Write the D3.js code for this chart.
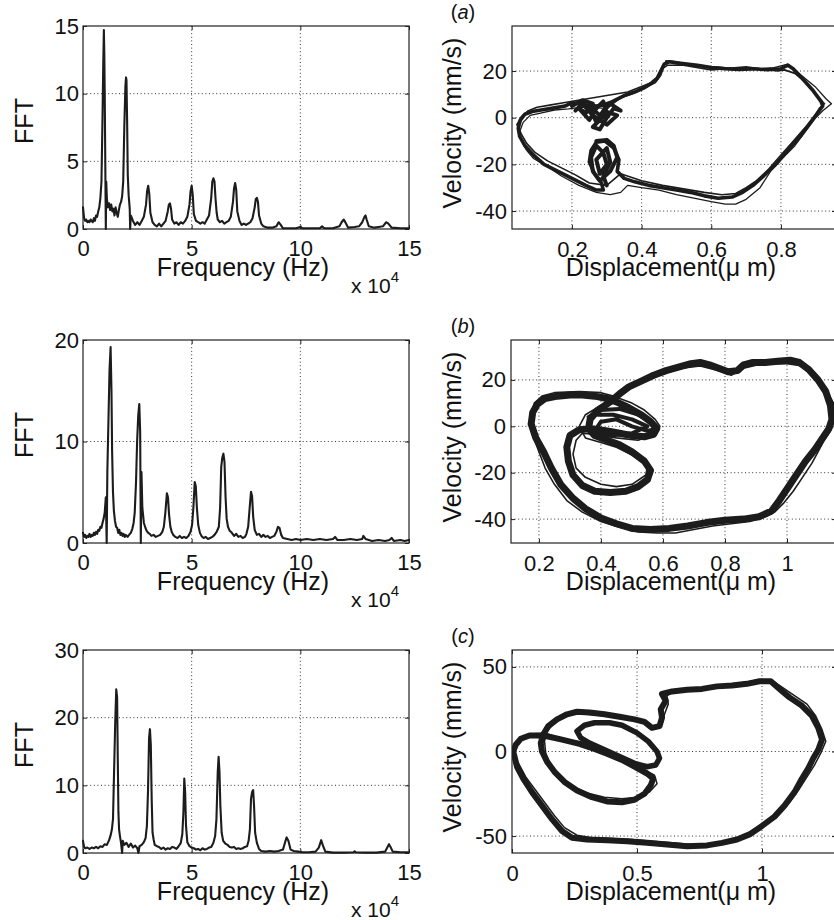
<!DOCTYPE html>
<html>
<head>
<meta charset="utf-8">
<title>FFT and phase portraits</title>
<script src="https://cdn.jsdelivr.net/npm/d3@7"></script>
<style>
body{margin:0;background:#fff;}
text{font-family:"Liberation Sans",Arial,Helvetica,sans-serif;fill:#111;}
.tick text{font-size:22px;}
.lab{font-size:25px;}
.grid{stroke:#333;stroke-width:1;stroke-dasharray:1,2.6;}
.box{fill:none;stroke:#222;stroke-width:1.2;}
.curve{fill:none;stroke:#1c1c1c;stroke-linejoin:round;stroke-linecap:round;}
</style>
</head>
<body>
<script>
// ---- data ----
var fftXTicks = [0, 5, 10, 15];
var fftYTicks = [[0, 5, 10, 15], [0, 10, 20], [0, 10, 20, 30]];
var fftYMax = [15, 20, 30];

// spectrum (a): [frequency x1e4 Hz, amplitude]
var fftA = [[0,1.6],[0.05,0.8],[0.1,0.6],[0.15,0.7],[0.2,0.5],[0.25,0.6],[0.3,0.5],[0.35,0.7],[0.4,0.6],[0.45,0.5],[0.5,0.8],[0.55,0.6],[0.6,1.0],[0.65,0.9],[0.7,1.3],[0.75,1.6],[0.8,2.3],[0.85,3.5],[0.9,8.5],[0.93,12],[0.96,14.7],[0.98,13],[1.0,10],[1.02,6],[1.05,0],[1.07,3.5],[1.1,2.2],[1.15,1.6],[1.2,1.9],[1.25,1.4],[1.3,1.8],[1.35,1.3],[1.4,1.5],[1.45,1.0],[1.5,1.6],[1.55,1.2],[1.6,0.9],[1.65,1.4],[1.7,1.8],[1.75,2.0],[1.8,2.4],[1.85,3.5],[1.9,7.5],[1.95,10.5],[1.98,11.2],[2.0,11.0],[2.03,8],[2.06,4],[2.1,2.5],[2.15,1.5],[2.17,0],[2.2,1.0],[2.3,0.6],[2.4,0.3],[2.5,0.5],[2.6,0.3],[2.7,0.6],[2.8,0.9],[2.9,1.8],[2.95,2.8],[3.0,3.2],[3.05,2.6],[3.1,1.2],[3.2,0.5],[3.3,0.3],[3.4,0.2],[3.5,0.4],[3.6,0.2],[3.7,0.4],[3.8,0.6],[3.9,1.3],[3.95,1.8],[4.0,1.9],[4.05,1.5],[4.1,0.7],[4.2,0.4],[4.3,0.5],[4.4,0.3],[4.5,0.5],[4.6,0.4],[4.7,0.6],[4.8,0.9],[4.9,1.8],[4.95,2.8],[5.0,3.2],[5.05,2.5],[5.1,1.1],[5.2,0.6],[5.3,0.5],[5.4,0.4],[5.5,0.5],[5.6,0.4],[5.7,0.7],[5.8,1.0],[5.9,2.3],[5.95,3.5],[6.0,3.75],[6.05,3.5],[6.1,2.2],[6.15,1.2],[6.2,0.7],[6.3,0.5],[6.4,0.6],[6.5,0.4],[6.6,0.5],[6.7,0.6],[6.8,0.9],[6.9,2.0],[6.95,3.0],[7.0,3.4],[7.05,2.9],[7.1,1.3],[7.2,0.6],[7.3,0.3],[7.4,0.4],[7.5,0.3],[7.6,0.4],[7.7,0.5],[7.8,0.8],[7.9,1.6],[7.95,2.2],[8.0,2.3],[8.05,2.0],[8.1,1.0],[8.2,0.4],[8.3,0.2],[8.5,0.1],[8.7,0.1],[8.9,0.2],[9.0,0.5],[9.1,0.3],[9.2,0.05],[9.5,0.05],[9.8,0.05],[10.0,0.15],[10.1,0.05],[10.5,0.05],[10.9,0.05],[11.0,0.2],[11.1,0.05],[11.5,0.05],[11.8,0.2],[11.9,0.5],[12.0,0.7],[12.1,0.4],[12.2,0.1],[12.5,0.15],[12.7,0.2],[12.85,0.5],[12.95,0.9],[13.0,1.0],[13.05,0.7],[13.15,0.2],[13.4,0.1],[13.6,0.15],[13.8,0.2],[13.95,0.5],[14.05,0.4],[14.2,0.1],[14.6,0.05],[15,0.05]];

// spectrum (b)
var fftB = [[0,1.0],[0.05,0.6],[0.1,0.8],[0.15,0.5],[0.2,0.7],[0.25,0.6],[0.3,0.9],[0.35,0.6],[0.4,0.8],[0.45,0.7],[0.5,1.0],[0.55,0.8],[0.6,1.1],[0.65,0.9],[0.7,1.3],[0.75,1.2],[0.8,1.6],[0.85,1.5],[0.9,2.0],[0.95,2.4],[1.0,3.0],[1.05,4.5],[1.09,0],[1.12,7],[1.17,12],[1.22,17],[1.27,19.3],[1.31,15],[1.34,9],[1.38,5],[1.42,3.2],[1.47,2.2],[1.52,1.6],[1.57,1.5],[1.62,1.0],[1.67,1.3],[1.72,0.8],[1.77,1.0],[1.82,0.7],[1.87,0.9],[1.92,0.6],[1.97,0.8],[2.05,0.6],[2.12,0.8],[2.2,1.0],[2.27,1.4],[2.33,2.0],[2.38,3.0],[2.44,6],[2.49,10],[2.54,12.5],[2.59,13.7],[2.63,11],[2.66,0],[2.69,7],[2.73,3.5],[2.8,2.0],[2.87,1.5],[2.93,1.2],[3.0,1.0],[3.07,0.9],[3.15,0.7],[3.25,0.8],[3.35,0.6],[3.45,0.7],[3.55,0.8],[3.65,1.1],[3.72,1.6],[3.79,3.0],[3.86,4.9],[3.91,4.5],[3.96,2.8],[4.02,1.6],[4.08,1.1],[4.15,0.8],[4.25,0.6],[4.35,0.5],[4.45,0.7],[4.55,0.5],[4.65,0.6],[4.75,0.5],[4.85,0.7],[4.95,1.1],[5.02,1.8],[5.08,3.5],[5.14,6.0],[5.19,5.6],[5.24,3.5],[5.3,1.8],[5.38,1.0],[5.45,0.7],[5.55,0.5],[5.65,0.6],[5.75,0.4],[5.85,0.5],[5.95,0.6],[6.05,0.8],[6.15,1.1],[6.25,1.6],[6.31,3.5],[6.36,7.5],[6.41,8.4],[6.46,8.8],[6.51,8.0],[6.56,4.5],[6.61,2.4],[6.67,1.6],[6.75,1.2],[6.85,1.0],[6.95,0.7],[7.05,0.9],[7.15,0.6],[7.25,0.7],[7.35,0.5],[7.45,0.6],[7.52,0.9],[7.6,1.6],[7.67,3.5],[7.73,5.05],[7.78,4.6],[7.83,2.6],[7.9,1.3],[8.0,0.8],[8.1,0.9],[8.2,0.6],[8.3,0.8],[8.4,0.6],[8.5,0.7],[8.6,0.5],[8.7,0.6],[8.8,0.7],[8.9,1.1],[8.97,1.6],[9.04,1.5],[9.12,0.8],[9.2,0.5],[9.4,0.4],[9.6,0.3],[9.8,0.4],[10.0,0.3],[10.3,0.4],[10.6,0.3],[10.9,0.4],[11.2,0.3],[11.5,0.4],[11.6,0.6],[11.7,0.3],[12.0,0.3],[12.3,0.4],[12.6,0.3],[12.85,0.4],[12.9,0.7],[13.0,0.4],[13.3,0.2],[13.6,0.3],[13.9,0.2],[14.1,0.3],[14.2,0.5],[14.3,0.2],[14.6,0.3],[14.8,0.2],[15,0.3]];

// spectrum (c)
var fftC = [[0,1.8],[0.05,0.9],[0.1,0.7],[0.2,0.8],[0.3,0.6],[0.4,0.8],[0.5,0.7],[0.6,0.9],[0.7,0.7],[0.8,1.0],[0.9,0.9],[1.0,1.3],[1.1,1.2],[1.2,1.9],[1.27,2.6],[1.33,3.5],[1.38,5],[1.43,12],[1.48,19],[1.53,24.2],[1.57,23],[1.6,14],[1.63,6],[1.66,3.5],[1.7,2.5],[1.75,1.5],[1.8,0],[1.83,1.8],[1.9,1.2],[2.0,1.5],[2.1,0.9],[2.2,1.4],[2.3,0.8],[2.4,1.1],[2.5,0.7],[2.55,0],[2.6,1.0],[2.7,1.2],[2.8,1.6],[2.88,2.2],[2.94,4],[2.99,9],[3.04,17],[3.08,18.3],[3.12,16],[3.16,8],[3.2,3],[3.25,2.0],[3.3,1.2],[3.4,1.0],[3.5,0.9],[3.6,0.6],[3.7,0.8],[3.8,0.5],[3.9,0.7],[4.0,0.6],[4.1,0.9],[4.2,0.8],[4.3,0.6],[4.4,1.0],[4.5,1.5],[4.57,2.8],[4.62,6],[4.66,11.0],[4.7,9],[4.74,4],[4.8,1.6],[4.9,1.0],[5.0,0.8],[5.1,0.7],[5.2,0.5],[5.3,0.6],[5.4,0.4],[5.5,0.7],[5.6,0.5],[5.7,0.6],[5.8,0.8],[5.9,0.9],[6.0,1.5],[6.08,2.5],[6.14,5],[6.2,12],[6.24,14.2],[6.28,12],[6.32,7],[6.38,3],[6.45,1.8],[6.55,1.4],[6.65,1.2],[6.75,0.9],[6.85,0.8],[6.95,0.9],[7.05,0.6],[7.15,0.7],[7.25,0.6],[7.35,0.7],[7.45,0.9],[7.55,1.0],[7.62,1.8],[7.68,3.5],[7.73,8],[7.78,9.0],[7.83,9.3],[7.87,7],[7.92,3],[8.0,1.5],[8.1,0.6],[8.2,0.3],[8.4,0.2],[8.6,0.3],[8.8,0.2],[9.0,0.3],[9.2,0.5],[9.3,1.6],[9.37,2.3],[9.45,1.8],[9.55,0.5],[9.7,0.3],[9.9,0.2],[10.1,0.1],[10.4,0.1],[10.7,0.2],[10.85,0.8],[10.96,1.9],[11.05,1.0],[11.15,0.2],[11.5,0.05],[12.0,0.05],[12.45,0.1],[12.5,0.25],[12.55,0.1],[13.0,0.05],[13.5,0.05],[13.9,0.2],[14.0,0.8],[14.08,1.3],[14.15,0.9],[14.25,0.2],[14.6,0.1],[15,0.1]];

// phase portraits: [displacement um, velocity mm/s]
var xTicksA = [0.2, 0.4, 0.6, 0.8], yTicksA = [-40, -20, 0, 20];
var xTicksB = [0.2, 0.4, 0.6, 0.8, 1], yTicksB = [-40, -20, 0, 20];
var xTicksC = [0, 0.5, 1], yTicksC = [-50, 0, 50];
var xDomA = [0.028, 0.958], yDomA = [-47.7, 39.3];
var xDomB = [0.11, 1.158], yDomB = [-50.3, 37.2];
var xDomC = [0, 1.296], yDomC = [-60, 60];

var loopA = [[0.046,-4.5],[0.052,-1],[0.065,1.5],[0.09,2.8],[0.12,3.5],[0.15,4.2],[0.18,5],[0.2,6.5],[0.22,6],[0.24,5.5],[0.27,5],[0.29,5.5],[0.31,6.5],[0.33,8],[0.35,9.5],[0.38,11],[0.41,13],[0.43,15],[0.445,17],[0.455,20],[0.465,23],[0.48,24],[0.5,23.5],[0.53,23],[0.56,22.5],[0.6,21.5],[0.64,21],[0.68,20.7],[0.72,21],[0.76,20.6],[0.8,21],[0.82,22.5],[0.835,21],[0.86,17],[0.89,12],[0.915,7],[0.92,5],[0.905,2],[0.88,-3],[0.855,-8],[0.82,-14],[0.785,-20],[0.75,-25],[0.72,-29],[0.69,-32],[0.66,-34],[0.62,-34.5],[0.58,-33.5],[0.54,-32],[0.5,-31],[0.46,-30],[0.42,-29],[0.38,-27.5],[0.35,-26],[0.33,-23],[0.335,-18],[0.32,-13],[0.295,-10],[0.27,-10.5],[0.255,-14],[0.25,-19],[0.265,-24],[0.285,-28],[0.29,-31],[0.27,-31],[0.24,-29],[0.2,-26],[0.16,-23],[0.12,-20],[0.09,-16],[0.065,-12],[0.05,-8],[0.046,-4.5]];
var loopA2 = [[0.05,-6],[0.06,-2],[0.08,1],[0.11,2],[0.15,3.3],[0.19,3.8],[0.23,4.5],[0.3,4],[0.34,8.5],[0.37,10],[0.4,12],[0.44,15],[0.455,18],[0.47,24.5],[0.5,24],[0.55,22],[0.62,21.8],[0.7,20.5],[0.78,21.5],[0.82,23],[0.86,18],[0.9,13],[0.93,8],[0.945,6],[0.92,3],[0.9,0],[0.87,-6],[0.84,-12],[0.8,-18],[0.77,-23],[0.74,-30],[0.7,-35],[0.67,-37],[0.64,-37],[0.6,-36],[0.55,-34.5],[0.5,-33],[0.45,-31],[0.4,-30],[0.36,-29],[0.34,-32],[0.31,-33],[0.27,-32],[0.22,-29],[0.17,-25],[0.13,-21],[0.09,-17.5],[0.07,-14],[0.055,-10],[0.05,-6]];
var loopA3 = [[0.042,-3],[0.055,0.5],[0.075,3],[0.1,4.5],[0.14,5.5],[0.18,6.5],[0.36,11],[0.42,14.5],[0.44,16],[0.46,21],[0.475,22.5],[0.52,22.5],[0.6,20.5],[0.7,21.8],[0.79,20],[0.81,20.5],[0.84,19],[0.88,14],[0.9,10],[0.925,6],[0.91,4],[0.89,-1],[0.865,-5],[0.83,-11],[0.8,-16],[0.765,-22],[0.73,-27],[0.7,-30],[0.67,-32.5],[0.63,-33],[0.58,-32],[0.52,-30.5],[0.46,-29],[0.4,-27],[0.34,-24],[0.3,-29],[0.25,-28],[0.21,-24.5],[0.17,-21.5],[0.13,-18.5],[0.095,-15],[0.07,-11],[0.055,-7],[0.042,-3]];
var blobA = [[0.2,5],[0.23,7.5],[0.26,6],[0.24,2],[0.22,4],[0.25,-1],[0.27,4],[0.29,7],[0.3,2],[0.26,-4],[0.28,-5],[0.3,0],[0.32,4],[0.34,3],[0.31,6],[0.28,1],[0.25,5],[0.27,-2],[0.29,3],[0.33,1],[0.3,-3],[0.26,1],[0.23,6],[0.21,3]];
var knotA = [[0.27,-10],[0.3,-9.5],[0.32,-12],[0.33,-17],[0.31,-23],[0.28,-27],[0.26,-23],[0.255,-17],[0.27,-12],[0.29,-15],[0.3,-20],[0.28,-24],[0.27,-18],[0.3,-13],[0.31,-19],[0.29,-25],[0.3,-29]];

var loopB = [[0.175,1],[0.18,6],[0.195,9.5],[0.22,12],[0.26,13],[0.3,13.5],[0.34,13.5],[0.38,13],[0.42,12],[0.45,10.5],[0.49,8],[0.53,5],[0.56,2],[0.58,-1],[0.57,-3.5],[0.54,-4.5],[0.5,-4],[0.46,-3],[0.42,-2],[0.37,-1],[0.33,-1.5],[0.3,-4],[0.29,-9],[0.295,-15],[0.31,-21],[0.34,-25.5],[0.38,-28],[0.43,-28.5],[0.48,-28],[0.52,-26],[0.55,-23],[0.56,-19],[0.54,-15],[0.5,-11],[0.46,-8],[0.42,-6],[0.38,-4],[0.36,-1],[0.365,3],[0.39,7],[0.43,10.5],[0.46,14],[0.49,17],[0.53,19.5],[0.57,22],[0.61,24],[0.65,25.5],[0.69,27],[0.72,27.5],[0.75,26.5],[0.78,25],[0.81,23.5],[0.84,24],[0.86,26.5],[0.89,27.5],[0.93,27.5],[0.97,28],[1.01,28.5],[1.04,27.5],[1.07,24.5],[1.1,20],[1.125,15],[1.14,9],[1.145,3],[1.135,-1],[1.115,-5],[1.09,-10],[1.06,-15],[1.03,-21],[1.0,-27],[0.975,-32],[0.95,-36.5],[0.91,-39],[0.86,-40],[0.8,-40.5],[0.74,-41.5],[0.68,-43],[0.62,-44],[0.56,-44.5],[0.5,-44],[0.45,-42],[0.4,-39.5],[0.35,-35.5],[0.31,-31],[0.27,-25],[0.24,-18],[0.215,-11],[0.19,-5],[0.175,1]];
var loopB2 = [[0.17,2],[0.185,10],[0.21,13],[0.25,14.5],[0.33,15],[0.4,14.5],[0.44,13],[0.5,10],[0.54,7],[0.575,3],[0.59,0],[0.58,-3],[0.52,-6],[0.45,-5],[0.38,-3.5],[0.34,-3],[0.32,-6],[0.31,-12],[0.32,-18],[0.35,-22],[0.4,-25],[0.45,-26],[0.5,-25],[0.545,-21],[0.55,-17],[0.51,-13],[0.45,-9],[0.4,-7],[0.35,-5],[0.33,0],[0.35,5],[0.4,9],[0.45,13],[0.5,17],[0.55,20],[0.6,22.5],[0.66,25],[0.72,26],[0.78,24],[0.82,22],[0.86,25],[0.92,27],[1.0,27],[1.05,26],[1.09,22],[1.12,17],[1.15,10],[1.155,4],[1.14,-2],[1.12,-6],[1.1,-11],[1.08,-16],[1.05,-22],[1.02,-28],[0.99,-33],[0.96,-37],[0.93,-39],[0.88,-41],[0.82,-42],[0.76,-43],[0.7,-44.5],[0.64,-46],[0.58,-46],[0.52,-45.5],[0.46,-43.5],[0.4,-41],[0.34,-37],[0.29,-32],[0.25,-25],[0.22,-18],[0.2,-11],[0.18,-4],[0.17,2]];
var blobB = [[0.36,4],[0.4,7],[0.46,7.5],[0.52,5],[0.56,2],[0.58,-1],[0.55,-2],[0.5,0],[0.45,3],[0.4,2],[0.38,-2],[0.43,-4],[0.5,-3],[0.55,0],[0.5,3],[0.44,5],[0.39,5]];

var loopC = [[0.005,0],[0.015,4],[0.035,7.5],[0.07,9.5],[0.1,9.5],[0.14,9],[0.2,7],[0.27,4.5],[0.33,1.5],[0.38,-1.3],[0.44,-5],[0.49,-9],[0.54,-13],[0.565,-16],[0.555,-20],[0.53,-25],[0.49,-28.5],[0.44,-30],[0.38,-29.5],[0.32,-27],[0.26,-23],[0.21,-18],[0.17,-12],[0.14,-6],[0.12,0],[0.115,5],[0.125,10],[0.145,15],[0.18,19],[0.22,22],[0.26,23.5],[0.31,23],[0.37,22],[0.43,20.5],[0.49,19],[0.53,17.5],[0.56,14],[0.59,15],[0.6,20],[0.595,25],[0.615,30],[0.6,34],[0.64,35.5],[0.7,36.5],[0.76,37],[0.82,38.5],[0.88,39],[0.94,40],[0.99,41.5],[1.035,41.5],[1.07,37],[1.11,32],[1.16,27],[1.2,21],[1.225,14],[1.24,7],[1.225,1],[1.205,-4],[1.185,-10],[1.16,-16],[1.13,-24],[1.09,-32],[1.05,-38.5],[1.0,-44],[0.95,-49],[0.9,-52],[0.84,-54],[0.78,-55.5],[0.7,-56],[0.62,-55],[0.54,-54],[0.46,-53],[0.38,-52.5],[0.3,-52],[0.24,-51],[0.2,-47],[0.16,-40],[0.12,-32],[0.08,-24],[0.045,-16],[0.02,-9],[0.005,0]];
var loopC2 = [[0.0,2],[0.02,6.5],[0.05,9],[0.09,10.5],[0.13,11],[0.17,9],[0.22,7],[0.28,5.5],[0.34,2.5],[0.4,-1],[0.46,-5.5],[0.52,-10],[0.57,-14],[0.58,-19],[0.55,-24],[0.5,-27],[0.44,-28],[0.37,-27],[0.3,-24.5],[0.24,-20.5],[0.19,-15],[0.155,-8],[0.135,-1],[0.13,6],[0.14,12],[0.17,17],[0.21,21],[0.25,22.5],[0.3,22],[0.38,21],[0.45,19.5],[0.52,18],[0.55,16],[0.575,14],[0.6,16],[0.61,22],[0.625,28],[0.62,33],[0.66,36.5],[0.74,37.5],[0.8,37.5],[0.86,39.5],[0.93,41],[1.0,42.5],[1.04,42],[1.08,38],[1.13,33],[1.18,28],[1.215,21],[1.24,13],[1.255,6],[1.235,-1],[1.21,-8],[1.18,-15],[1.15,-22],[1.11,-30],[1.07,-36],[1.02,-42],[0.97,-48],[0.92,-51],[0.86,-53],[0.8,-54.5],[0.72,-55],[0.64,-54],[0.56,-53],[0.48,-52],[0.4,-51.5],[0.32,-51],[0.26,-49.5],[0.21,-45],[0.17,-38],[0.13,-30],[0.09,-22],[0.055,-15],[0.03,-8],[0.01,-3],[0.0,2]];
var ellipseC = [[0.26,12],[0.29,15.5],[0.33,17],[0.39,17],[0.44,15.5],[0.5,11],[0.545,6],[0.58,0],[0.59,-4],[0.575,-8],[0.54,-9],[0.49,-7],[0.43,-3],[0.37,1],[0.31,5],[0.275,8],[0.26,12]];

var panelLabels = ["a", "b", "c"];

// ---- layout ----
var rows = [{top:26, bottom:229}, {top:340, bottom:543}, {top:650, bottom:853}];
var svg = d3.select("body").append("svg").attr("width", 834).attr("height", 920);

function axesBox(g, x, y, xt, yt, lg){
	var x0 = x.range()[0], x1 = x.range()[1], y0 = y.range()[1], y1 = y.range()[0];
	// dotted grid
	g.selectAll(".gx").data(xt.filter(d => x(d) > x0 + 1 && x(d) < x1 - 1)).enter().append("line")
		.attr("class","grid").attr("x1",d=>x(d)).attr("x2",d=>x(d)).attr("y1",y0).attr("y2",y1);
	g.selectAll(".gy").data(yt.filter(d => y(d) > y0 + 1 && y(d) < y1 - 1)).enter().append("line")
		.attr("class","grid").attr("y1",d=>y(d)).attr("y2",d=>y(d)).attr("x1",x0).attr("x2",x1);

	g.append("g").attr("transform","translate(0,"+y1+")")
		.call(d3.axisBottom(x).tickValues(xt).tickSizeInner(-4).tickSizeOuter(0).tickPadding(lg.xpad).tickFormat(d=>String(d)));
	g.append("g").attr("transform","translate("+x0+",0)")
		.call(d3.axisLeft(y).tickValues(yt).tickSizeInner(-4).tickSizeOuter(0).tickPadding(lg.ypad).tickFormat(d=>String(d)));
	g.append("g").attr("transform","translate(0,"+y0+")")
		.call(d3.axisTop(x).tickValues(xt).tickSizeInner(-4).tickSizeOuter(0).tickFormat(""));
	g.append("g").attr("transform","translate("+x1+",0)")
		.call(d3.axisRight(y).tickValues(yt).tickSizeInner(-4).tickSizeOuter(0).tickFormat(""));
	g.selectAll(".domain").remove();
	g.selectAll(".tick line").attr("stroke","#222");
	g.selectAll(".tick text").attr("fill","#111");
	g.append("rect").attr("class","box").attr("x",x0).attr("y",y0).attr("width",x1-x0).attr("height",y1-y0);
}

// FFT panels (left)
[fftA, fftB, fftC].forEach(function(series, i){
	var r = rows[i];
	var g = svg.append("g");
	var x = d3.scaleLinear().domain([0, 15]).range([83, 409]);
	var y = d3.scaleLinear().domain([0, fftYMax[i]]).range([r.bottom, r.top]);
	axesBox(g, x, y, fftXTicks, fftYTicks[i], {xpad:11, ypad:4});
	g.append("path").datum(series).attr("class","curve").attr("stroke-width",2.1)
		.attr("d", d3.line().x(d=>x(d[0])).y(d=>y(d[1])));

	g.append("text").attr("class","lab").attr("text-anchor","middle")
		.attr("transform","translate(33,"+(r.top+95)+") rotate(-90)").text("FFT");
	g.append("text").attr("class","lab").attr("text-anchor","middle")
		.attr("x",243).attr("y",r.bottom+47).text("Frequency (Hz)");
	var e = g.append("text").attr("x",351).attr("y",r.bottom+64).style("font-size","21px");
	e.append("tspan").text("x 10");
	e.append("tspan").attr("dy",-11).style("font-size","15px").text("4");
});

// phase portrait panels (right)
var phase = [
	{xd:xDomA, yd:yDomA, xt:xTicksA, yt:yTicksA, x0:512, paths:[[loopA,3.6],[loopA2,1.3],[loopA3,1.6],[blobA,4],[knotA,4]]},
	{xd:xDomB, yd:yDomB, xt:xTicksB, yt:yTicksB, x0:511, paths:[[loopB,7],[loopB2,1.6],[blobB,4]]},
	{xd:xDomC, yd:yDomC, xt:xTicksC, yt:yTicksC, x0:512, paths:[[loopC,6],[loopC2,1.5],[ellipseC,5.5]]}
];
phase.forEach(function(p, i){
	var r = rows[i];
	var g = svg.append("g");
	var x = d3.scaleLinear().domain(p.xd).range([p.x0, 836]);
	var y = d3.scaleLinear().domain(p.yd).range([r.bottom, r.top]);
	axesBox(g, x, y, p.xt, p.yt, {xpad:12, ypad:5});
	svg.append("clipPath").attr("id","clip"+i).append("rect")
		.attr("x",p.x0).attr("y",r.top).attr("width",836-p.x0).attr("height",r.bottom-r.top);
	var line = d3.line().x(d=>x(d[0])).y(d=>y(d[1]));
	var pg = g.append("g").attr("clip-path","url(#clip"+i+")");
	p.paths.forEach(function(q){
		pg.append("path").datum(q[0]).attr("class","curve").attr("stroke-width",q[1]).attr("d",line);
	});

	g.append("text").attr("class","lab").attr("text-anchor","middle")
		.attr("transform","translate(461,"+(r.top+97)+") rotate(-90)").text("Velocity (mm/s)");
	g.append("text").attr("class","lab").attr("text-anchor","middle")
		.attr("x",671).attr("y",r.bottom+47).text("Displacement(\u03bc m)");
	var t = g.append("text").attr("x",463).attr("y",r.top-7).attr("text-anchor","middle").style("font-size","20px");
	t.append("tspan").text("(");
	t.append("tspan").style("font-style","italic").text(panelLabels[i]);
	t.append("tspan").text(")");
});
</script>
</body>
</html>
